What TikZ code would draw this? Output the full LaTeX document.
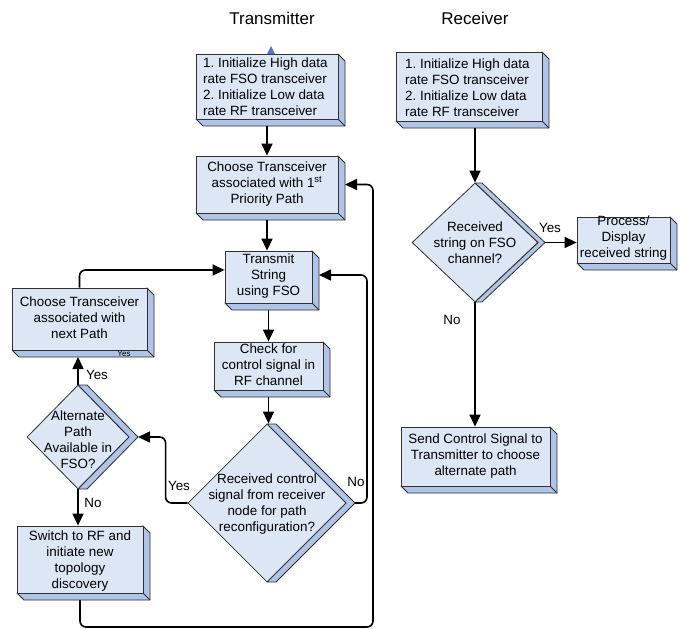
\documentclass[tikz,border=0pt]{standalone}
\usepackage{fontspec}
\setmainfont{Liberation Sans}
\usetikzlibrary{arrows.meta,calc,shapes.geometric}
\frenchspacing
\definecolor{face}{HTML}{DCE6F4}
\definecolor{side}{HTML}{AFC4E6}
\definecolor{edge}{HTML}{303030}
\definecolor{markblue}{HTML}{4F7BC8}
\tikzset{
  x=1pt, y=-1pt,
  sidefill/.style={fill=side, draw=edge, line width=0.8pt, line join=round},
  edgeline/.style={draw=edge, line width=0.8pt},
  facebox/.style={fill=face, draw=edge, line width=0.8pt, inner sep=0pt},
  txt/.style={font=\fontsize{13.4}{16}\selectfont, align=center, inner sep=0pt, text=black},
  lbl/.style={font=\fontsize{13.4}{16}\selectfont, inner sep=0pt, text=black},
  title/.style={font=\fontsize{17}{20}\selectfont, inner sep=0pt},
  conn/.style={draw=black, line width=1.6pt, rounded corners=6pt, -{Triangle[length=12pt,width=11pt]}},
}
% 3D box: name, x1, y1, x2, y2
\newcommand\tdbox[5]{%
  \filldraw[sidefill] (#4,#3) -- (#4+7,#3+7) -- (#4+7,#5+7) -- (#2+7,#5+7) -- (#2,#5) -- cycle;
  \draw[edgeline] (#4,#5) -- (#4+7,#5+7);
  \node[facebox, minimum width={(#4-#2)*1pt}, minimum height={(#5-#3)*1pt}] (#1) at ({(#2+#4)/2},{(#3+#5)/2}) {};
  \coordinate (#1-b) at ({(#2+#4)/2},#5+7);
  \coordinate (#1-r) at (#4+7,{(#3+#5)/2});
}
% 3D diamond: name, cx, cy, half width, half height, depth
\newcommand\tddiam[6]{%
  \filldraw[sidefill] (#2,#3-#5) -- (#2+#6,#3-#5) -- (#2+#4+#6,#3) -- (#2+#6,#3+#5) -- (#2,#3+#5) -- (#2+#4,#3) -- cycle;
  \node[diamond, facebox, minimum width={2*#4*1pt}, minimum height={2*#5*1pt}] (#1) at (#2,#3) {};
  \coordinate (#1-r) at (#2+#4+#6,#3);
}
\begin{document}
\begin{tikzpicture}
\useasboundingbox[fill=white] (0,0) rectangle (680,629);

% titles
\node[title] (ttx) at (272,18) {Transmitter};
\node[title] (trx) at (475,18) {Receiver};

% ---------- Transmitter ----------
\tdbox{initT}{196}{54}{338}{119}
\node[txt, align=left, anchor=west] (initT-t) at (203,87) {1. Initialize High data\\rate FSO transceiver\\2. Initialize Low data\\rate RF transceiver};
\fill[markblue] (267,54) -- (271,46) -- (275,54) -- cycle;

\tdbox{chooseT}{196}{156}{338}{213}
\node[txt] (chooseT-t) at (267,184) {Choose Transceiver\\associated with 1\textsuperscript{st}\\Priority Path};

\tdbox{tx}{225}{251}{312}{303}
\node[txt] (tx-t) at (268.5,276) {Transmit\\String\\using FSO};

\tdbox{check}{214}{342}{323}{390}
\node[txt] (check-t) at (268.5,365) {Check for\\control signal in\\RF channel};

\tddiam{rc}{267}{503}{79}{79}{9}
\node[txt] (rc-t) at (267,504) {Received control\\signal from receiver\\node for path\\reconfiguration?};

\tdbox{cn}{12}{288}{147}{350}
\node[txt] (cn-t) at (79.5,318) {Choose Transceiver\\associated with\\next Path};
\node[font=\fontsize{8}{9}\selectfont, inner sep=0pt] (cn-y) at (124,354) {Yes};

\tddiam{alt}{78}{437}{51}{52}{9}
\node[txt] (alt-t) at (78,440) {Alternate\\Path\\Available in\\FSO?};

\tdbox{sw}{17}{526}{143}{593}
\node[txt] (sw-t) at (80,561) {Switch to RF and\\initiate new\\topology\\discovery};

% connectors (transmitter)
\draw[conn] (initT-b) -- (chooseT.north);
\draw[conn] (chooseT-b) -- (chooseT-b |- tx.north);
\draw[conn] (tx-b) -- (tx-b |- check.north);
\draw[conn] (check-b) -- (check-b |- rc.north);
\draw[conn] (rc.west) -- ++(-22,0) |- (alt-r);
\draw[conn] (rc-r) -- ++(12,0) |- ($(tx-r)+(0,-2)$);
\draw[conn] (alt.north) -- (alt.north |- cn-b);
\draw[conn] (alt.south) -- (alt.south |- sw.north);
\draw[conn] (cn.north) |- ($(tx.west)+(0,-7)$);
\draw[conn] (sw-b) -- ++(0,27) -| ($(chooseT-r)+(28,0)$) -- (chooseT-r);

\node[lbl] (l-y1) at (97,375) {Yes};
\node[lbl] (l-n1) at (93,503) {No};
\node[lbl] (l-y2) at (179,486) {Yes};
\node[lbl] (l-n2) at (356,482) {No};

% ---------- Receiver ----------
\tdbox{initR}{396}{52}{542}{121}
\node[txt, align=left, anchor=west] (initR-t) at (405,88) {1. Initialize High data\\rate FSO transceiver\\2. Initialize Low data\\rate RF transceiver};

\tddiam{rd}{475}{242.5}{63}{59.5}{7}
\node[txt] (rd-t) at (475,243) {Received\\string on FSO\\channel?};

\tdbox{pr}{577}{217}{670}{263}
\node[txt] (pr-t) at (623.5,238) {Process/\\Display\\received string};

\tdbox{sd}{401}{427}{550}{486}
\node[txt] (sd-t) at (475.5,456) {Send Control Signal to\\Transmitter to choose\\alternate path};

\draw[conn] (rd.north |- initR-b) -- (rd.north);
\draw[conn] (rd-r) -- (rd-r -| pr.west);
\draw[conn] (rd.south) -- (rd.south |- sd.north);
\node[lbl] (l-y3) at (550,228) {Yes};
\node[lbl] (l-n3) at (452,320) {No};
\end{tikzpicture}
\end{document}
